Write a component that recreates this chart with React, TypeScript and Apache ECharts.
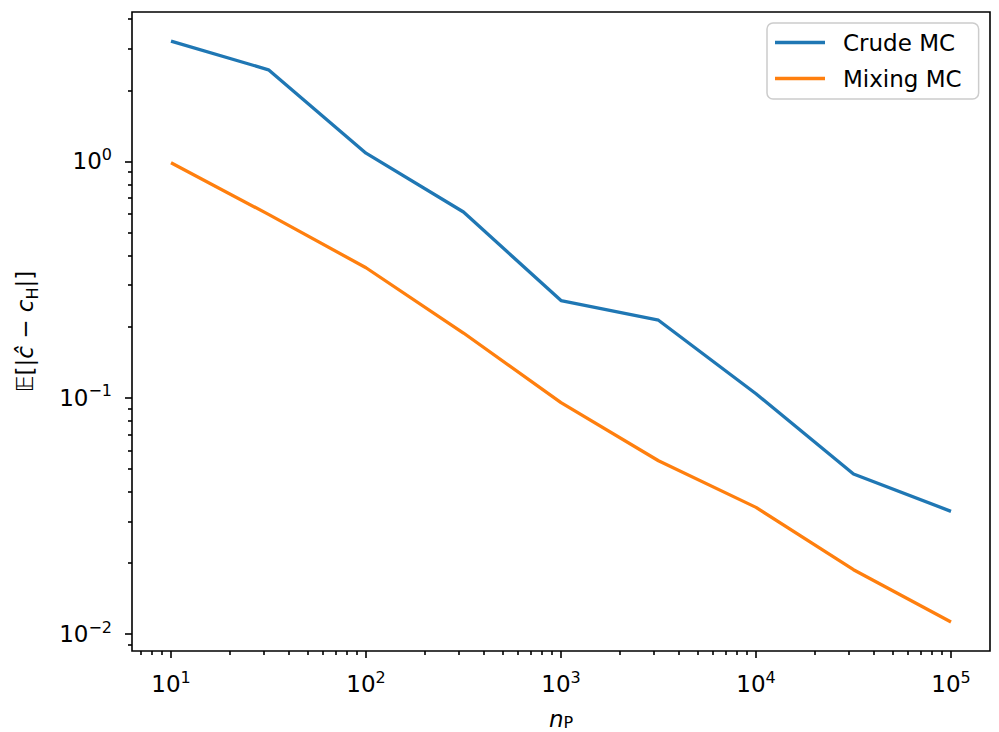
import React, { useEffect, useRef } from 'react';
import * as echarts from 'echarts';

// n_P sample sizes (half-decade steps)
const npValues = [10, 31.62, 100, 316.2, 1000, 3162, 10000, 31623, 100000];
// E[|c_hat - c_H|]
const crudeMC = [3.23, 2.44, 1.084, 0.611, 0.258, 0.213, 0.104, 0.0476, 0.0331];
const mixingMC = [0.987, 0.597, 0.355, 0.188, 0.0955, 0.0542, 0.0344, 0.01875, 0.01127];

const seriesNames = ['Crude MC', 'Mixing MC'];
const seriesColors = ['#1f77b4', '#ff7f0e'];

// tick labels (exponents of 10)
const xMajorExponents = [1, 2, 3, 4, 5];
const yMajorExponents = [-2, -1, 0];
const minorMantissas = [2, 3, 4, 5, 6, 7, 8, 9];

const FONT = 'DejaVu Sans';

function logRange(values: number[]): [number, number] {
  const lo = Math.log10(Math.min(...values));
  const hi = Math.log10(Math.max(...values));
  const m = (hi - lo) * 0.05;
  return [lo - m, hi + m];
}

function minorTicks(range: [number, number]): number[] {
  const out: number[] = [];
  for (let e = Math.floor(range[0]) - 1; e <= Math.ceil(range[1]); e++) {
    for (const m of minorMantissas) {
      const v = e + Math.log10(m);
      if (v >= range[0] && v <= range[1]) out.push(v);
    }
  }
  return out;
}

const supLabel = (v: number) => {
  const e = Math.round(v);
  const s = e < 0 ? '\u2212' + Math.abs(e) : String(e);
  return `{b|10}{s|${s}}`;
};

const labelRich = {
  b: { fontFamily: FONT, fontSize: 23, color: '#000', lineHeight: 30, verticalAlign: 'middle' },
  s: { fontFamily: FONT, fontSize: 16, color: '#000', lineHeight: 16, verticalAlign: 'top' },
};

export default function App() {
  const ref = useRef<HTMLDivElement>(null);
  useEffect(() => {
    if (!ref.current) return;
    const chart = echarts.init(ref.current, undefined, { renderer: 'svg' });
    const xRange = logRange(npValues);
    const yRange = logRange([...crudeMC, ...mixingMC]);
    const tickStyle = { color: '#000', width: 1.6 };

    const mkSeries = (name: string, vals: number[], color: string) => ({
      name,
      type: 'line',
      xAxisIndex: 0,
      yAxisIndex: 0,
      symbol: 'none',
      showSymbol: false,
      lineStyle: { color, width: 3.3 },
      itemStyle: { color },
      data: npValues.map((x, i) => [Math.log10(x), Math.log10(vals[i])]),
    });

    chart.setOption({
      animation: false,
      backgroundColor: '#fff',
      grid: {
        left: 132,
        right: 9,
        top: 12,
        bottom: 81,
        containLabel: false,
        outerBoundsMode: 'none',
        show: true,
        borderColor: '#000',
        borderWidth: 1.6,
        backgroundColor: 'transparent',
      },
      legend: {
        orient: 'vertical',
        left: 767,
        top: 23,
        data: seriesNames,
        icon: 'rect',
        padding: [8, 17, 9, 8],
        itemWidth: 50,
        itemHeight: 3.3,
        itemGap: 13,
        backgroundColor: '#fff',
        borderColor: '#cccccc',
        borderWidth: 1.5,
        borderRadius: 6,
        lineStyle: { width: 3.3 },
        textStyle: { fontFamily: FONT, fontSize: 23, color: '#000', padding: [0, 0, 0, 13] },
      },
      xAxis: [
        {
          type: 'value',
          min: xRange[0],
          max: xRange[1],
          position: 'bottom',
          name: '{i|n}{sub|P}',
          nameLocation: 'middle',
          nameGap: 57,
          nameTextStyle: {
            rich: {
              i: { fontFamily: FONT, fontStyle: 'italic', fontSize: 23, color: '#000', lineHeight: 22, verticalAlign: 'middle' },
              sub: { fontFamily: FONT, fontSize: 16, color: '#000', lineHeight: 15, verticalAlign: 'bottom' },
            },
          },
          axisLine: { show: false, onZero: false },
          splitLine: { show: false },
          axisTick: { show: true, inside: false, length: 7, lineStyle: tickStyle, customValues: xMajorExponents },
          axisLabel: { customValues: xMajorExponents, formatter: supLabel, rich: labelRich, margin: 18 },
        },
        {
          type: 'value',
          min: xRange[0],
          max: xRange[1],
          position: 'bottom',
          axisLine: { show: false, onZero: false },
          splitLine: { show: false },
          axisLabel: { show: false },
          axisTick: { show: true, inside: false, length: 4, lineStyle: tickStyle, customValues: minorTicks(xRange) },
        },
      ],
      yAxis: [
        {
          type: 'value',
          min: yRange[0],
          max: yRange[1],
          position: 'left',
          name: '{bb|\u{1D53C}}{t|[|}{i|\u0109}{t| \u2212 }{i|c}{sub|H}{t||]}',
          nameLocation: 'middle',
          nameRotate: 90,
          nameGap: 92,
          nameTextStyle: {
            rich: {
              bb: { fontFamily: FONT, fontSize: 23, color: '#000', lineHeight: 30, verticalAlign: 'middle' },
              t: { fontFamily: FONT, fontSize: 23, color: '#000', lineHeight: 30, verticalAlign: 'middle' },
              i: { fontFamily: FONT, fontStyle: 'italic', fontSize: 23, color: '#000', lineHeight: 30, verticalAlign: 'middle' },
              sub: { fontFamily: FONT, fontSize: 16, color: '#000', lineHeight: 21, verticalAlign: 'bottom' },
            },
          },
          axisLine: { show: false, onZero: false },
          splitLine: { show: false },
          axisTick: { show: true, inside: false, length: 7, lineStyle: tickStyle, customValues: yMajorExponents },
          axisLabel: { customValues: yMajorExponents, formatter: supLabel, rich: labelRich, margin: 20 },
        },
        {
          type: 'value',
          min: yRange[0],
          max: yRange[1],
          position: 'left',
          axisLine: { show: false, onZero: false },
          splitLine: { show: false },
          axisLabel: { show: false },
          axisTick: { show: true, inside: false, length: 4, lineStyle: tickStyle, customValues: minorTicks(yRange) },
        },
      ],
      series: [
        mkSeries(seriesNames[0], crudeMC, seriesColors[0]),
        mkSeries(seriesNames[1], mixingMC, seriesColors[1]),
      ],
    });
    return () => chart.dispose();
  }, []);
  return <div ref={ref} style={{ position: 'absolute', left: 0, top: 0, width: 999, height: 732 }} />;
}
